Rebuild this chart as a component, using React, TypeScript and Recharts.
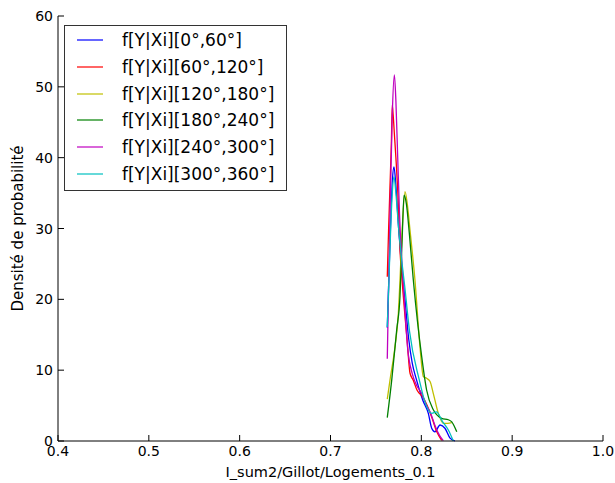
import { LineChart, Line, XAxis, YAxis } from "recharts";

// densités : [x, densité]
const SERIE_0_60 = [
  [0.7625, 16], [0.764, 22], [0.766, 30], [0.768, 36.5], [0.7699, 38.7], [0.772, 36],
  [0.775, 30], [0.778, 25], [0.782, 20], [0.786, 14.5], [0.79, 11], [0.7948, 8.6],
  [0.8015, 5.8], [0.8077, 3.9], [0.8114, 1.8], [0.815, 1.3], [0.8206, 2.26], [0.826, 1.8],
  [0.8316, 0.4], [0.837, 0],
];
const SERIE_60_120 = [
  [0.7625, 23.2], [0.764, 30], [0.7655, 36], [0.767, 42], [0.768, 47.4], [0.769, 46],
  [0.7705, 43], [0.772, 40], [0.7745, 34], [0.7765, 27], [0.7788, 22.7], [0.7843, 14.3],
  [0.7875, 9.6], [0.791, 8.6], [0.7952, 7.2], [0.8018, 6.2], [0.8114, 3.4], [0.817, 1.3],
  [0.8224, 0.1],
];
const SERIE_120_180 = [
  [0.7625, 5.9], [0.7655, 8.6], [0.771, 13.3], [0.7747, 18], [0.7765, 22.7], [0.779, 30],
  [0.782, 35.2], [0.7845, 33.5], [0.7875, 29.8], [0.793, 22.7], [0.7985, 13.3], [0.8022, 9.1],
  [0.8058, 8.85], [0.8096, 8.4], [0.8132, 6.7], [0.8187, 3.9], [0.8242, 2.5], [0.829, 2.5],
  [0.8335, 2.6],
];
const SERIE_180_240 = [
  [0.7625, 3.3], [0.7674, 8.6], [0.7729, 15.7], [0.7765, 20.4], [0.779, 29], [0.781, 34.7],
  [0.7835, 33.5], [0.787, 29], [0.7912, 22.7], [0.8004, 11.9], [0.8058, 7.2], [0.8132, 4.4],
  [0.8224, 3.2], [0.8297, 3.0], [0.8335, 2.7], [0.839, 1.3],
];
const SERIE_240_300 = [
  [0.7625, 11.6], [0.764, 22], [0.766, 35], [0.768, 46], [0.7703, 51.7], [0.772, 48],
  [0.774, 40], [0.776, 32], [0.7806, 21.3], [0.785, 13], [0.79, 9.5], [0.795, 7.8],
  [0.8, 6.8], [0.805, 5.2], [0.81, 4.0], [0.815, 2.2], [0.82, 0.8], [0.8242, 0.05],
];
const SERIE_300_360 = [
  [0.7625, 16.1], [0.764, 21.5], [0.766, 29], [0.768, 35], [0.7699, 37.3], [0.772, 35],
  [0.775, 30], [0.778, 26], [0.782, 21.5], [0.787, 15.5], [0.7978, 8.6], [0.804, 5.5],
  [0.8114, 3.9], [0.8167, 4.1], [0.823, 2.8], [0.8297, 1.55], [0.8352, 0],
];

const NOMS = [
  "f[Y|Xi][0°,60°]",
  "f[Y|Xi][60°,120°]",
  "f[Y|Xi][120°,180°]",
  "f[Y|Xi][180°,240°]",
  "f[Y|Xi][240°,300°]",
  "f[Y|Xi][300°,360°]",
];
const COULEURS = ["#0000ff", "#ff0000", "#bfbf00", "#008000", "#bf00bf", "#00bfbf"];
const SERIES = [SERIE_0_60, SERIE_60_120, SERIE_120_180, SERIE_180_240, SERIE_240_300, SERIE_300_360];

const X_TICKS = [0.4, 0.5, 0.6, 0.7, 0.8, 0.9, 1.0];
const Y_TICKS = [0, 10, 20, 30, 40, 50, 60];

const POLICE = "'DejaVu Sans', sans-serif";
const TICK_LEN = 6;

function TickBas({ x, y, payload }: any) {
  return (
    <g>
      <line x1={x} y1={y} x2={x} y2={y - TICK_LEN} stroke="#000" />
      <text x={x} y={y + 15} textAnchor="middle" fontSize={14} fontFamily={POLICE} fill="#000">
        {payload.value.toFixed(1)}
      </text>
    </g>
  );
}

function TickHaut({ x, y }: any) {
  return <line x1={x} y1={y} x2={x} y2={y + TICK_LEN} stroke="#000" />;
}

function TickGauche({ x, y, payload }: any) {
  return (
    <g>
      <line x1={x} y1={y} x2={x + TICK_LEN} y2={y} stroke="#000" />
      <text x={x - 5} y={y + 5} textAnchor="end" fontSize={14} fontFamily={POLICE} fill="#000">
        {payload.value}
      </text>
    </g>
  );
}

function TickDroite({ x, y }: any) {
  return <line x1={x} y1={y} x2={x - TICK_LEN} y2={y} stroke="#000" />;
}

function Legende() {
  return (
    <div
      style={{
        position: "absolute",
        top: 25,
        left: 64,
        border: "1px solid #333",
        background: "#fff",
        width: 221,
        padding: "1px 0 3px",
        fontFamily: POLICE,
        fontSize: 17,
        lineHeight: "normal",
      }}
    >
      {NOMS.map((nom, i) => (
        <div key={nom} style={{ display: "flex", alignItems: "center", height: 26.7 }}>
          <span style={{ width: 26, height: 2, background: COULEURS[i], opacity: 0.6, marginLeft: 12, marginRight: 19 }} />
          <span style={{ color: "#000" }}>{nom}</span>
        </div>
      ))}
    </div>
  );
}

export default function App() {
  return (
    <div style={{ position: "absolute", top: 0, left: 0, width: 615, height: 483, background: "#fff" }}>
      <LineChart width={615} height={483} margin={{ top: 16, right: 12, left: 0, bottom: 0 }}>
        <XAxis
          type="number"
          dataKey="x"
          domain={[0.4, 1.0]}
          ticks={X_TICKS}
          allowDataOverflow
          height={42}
          tickSize={0}
          tickMargin={0}
          tick={<TickBas />}
          tickLine={false}
          axisLine={{ stroke: "#000" }}
          label={{
            value: "I_sum2/Gillot/Logements_0.1",
            position: "insideBottom",
            offset: 6,
            style: { fontSize: 14.5, fontFamily: POLICE, fill: "#000" },
          }}
        />
        <XAxis
          xAxisId="haut"
          orientation="top"
          type="number"
          domain={[0.4, 1.0]}
          ticks={X_TICKS}
          allowDataOverflow
          height={0}
          tickSize={0}
          tickMargin={0}
          tick={<TickHaut />}
          tickLine={false}
          axisLine={{ stroke: "#000" }}
        />
        <YAxis
          type="number"
          domain={[0, 60]}
          ticks={Y_TICKS}
          width={58}
          tickSize={0}
          tickMargin={0}
          tick={<TickGauche />}
          tickLine={false}
          axisLine={{ stroke: "#000" }}
          label={{
            value: "Densité de probabilité",
            angle: -90,
            position: "insideLeft",
            offset: 18,
            style: { textAnchor: "middle", fontSize: 15, fontFamily: POLICE, fill: "#000" },
          }}
        />
        <YAxis
          yAxisId="droite"
          orientation="right"
          type="number"
          domain={[0, 60]}
          ticks={Y_TICKS}
          width={0}
          tickSize={0}
          tickMargin={0}
          tick={<TickDroite />}
          tickLine={false}
          axisLine={{ stroke: "#000" }}
        />
        {SERIES.map((serie, i) => (
          <Line
            key={NOMS[i]}
            name={NOMS[i]}
            data={serie.map(([x, y]) => ({ x, y }))}
            dataKey="y"
            type="monotone"
            stroke={COULEURS[i]}
            strokeWidth={1.3}
            dot={false}
            activeDot={false}
            isAnimationActive={false}
          />
        ))}
      </LineChart>
      <Legende />
    </div>
  );
}
